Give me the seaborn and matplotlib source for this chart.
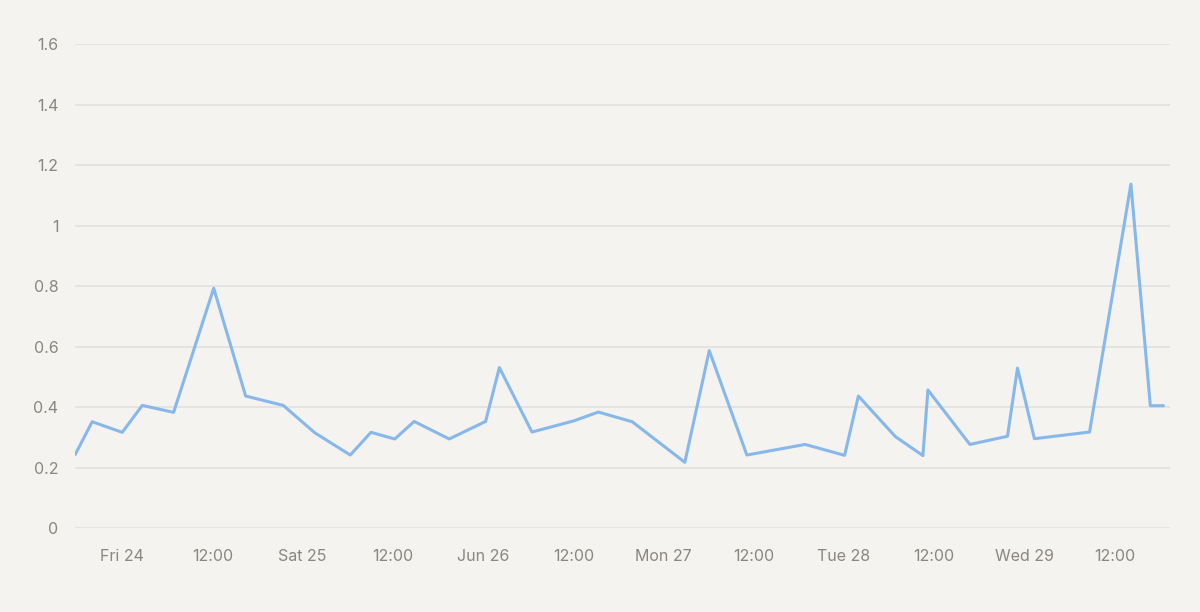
import numpy as np
import pandas as pd
import matplotlib
matplotlib.use("Agg")
import matplotlib.pyplot as plt
import seaborn as sns

# timestamps of each reading (June 2022)
times = [
    "2022-06-23 17:45", "2022-06-23 20:00", "2022-06-24 00:00", "2022-06-24 02:40",
    "2022-06-24 06:50", "2022-06-24 12:10", "2022-06-24 16:25", "2022-06-24 21:25",
    "2022-06-25 01:35", "2022-06-25 06:20", "2022-06-25 09:05", "2022-06-25 12:15",
    "2022-06-25 14:50", "2022-06-25 19:30", "2022-06-26 00:20", "2022-06-26 02:10",
    "2022-06-26 06:30", "2022-06-26 12:05", "2022-06-26 15:20", "2022-06-26 19:50",
    "2022-06-27 02:50", "2022-06-27 06:05", "2022-06-27 11:05", "2022-06-27 18:50",
    "2022-06-28 00:05", "2022-06-28 01:55", "2022-06-28 06:50", "2022-06-28 10:30",
    "2022-06-28 11:10", "2022-06-28 16:45", "2022-06-28 21:45", "2022-06-28 23:05",
    "2022-06-29 01:20", "2022-06-29 08:40", "2022-06-29 14:10", "2022-06-29 16:45",
    "2022-06-29 18:30",
]
values = [
    0.244, 0.352, 0.317, 0.406,
    0.383, 0.793, 0.437, 0.406,
    0.316, 0.242, 0.317, 0.295,
    0.353, 0.295, 0.353, 0.531,
    0.318, 0.355, 0.384, 0.352,
    0.218, 0.587, 0.242, 0.277,
    0.241, 0.437, 0.303, 0.240,
    0.457, 0.277, 0.304, 0.529,
    0.296, 0.318, 1.137, 0.405,
    0.405,
]

tick_times = [
    "2022-06-24 00:00", "2022-06-24 12:00", "2022-06-25 00:00", "2022-06-25 12:00",
    "2022-06-26 00:00", "2022-06-26 12:00", "2022-06-27 00:00", "2022-06-27 12:00",
    "2022-06-28 00:00", "2022-06-28 12:00", "2022-06-29 00:00", "2022-06-29 12:00",
]
tick_labels = [
    "Fri 24", "12:00", "Sat 25", "12:00", "Jun 26", "12:00",
    "Mon 27", "12:00", "Tue 28", "12:00", "Wed 29", "12:00",
]
y_ticks = [0, 0.2, 0.4, 0.6, 0.8, 1.0, 1.2, 1.4, 1.6]

df = pd.DataFrame({"time": pd.to_datetime(times), "value": values})

bg = "#f4f3ef"
sns.set_theme(style="white")
plt.rcParams["font.family"] = ["Inter", "DejaVu Sans"]

fig = plt.figure(figsize=(12, 6.12), dpi=100, facecolor=bg)
ax = fig.add_axes([0.0625, 0.1368, 0.9125, 0.7913])
ax.set_facecolor(bg)

sns.lineplot(data=df, x="time", y="value", ax=ax, color="#86b8ec", linewidth=2.2)

ax.set_xlim(pd.Timestamp("2022-06-23 17:43"), pd.Timestamp("2022-06-29 19:22"))
ax.set_ylim(0, 1.6)

ax.set_yticks(y_ticks)
ax.set_yticklabels([f"{v:g}" for v in y_ticks])
ax.set_xticks(pd.to_datetime(tick_times))
ax.set_xticklabels(tick_labels)

ax.grid(axis="y", color="#e2e0dc", linewidth=1.2)
ax.grid(axis="x", visible=False)
for s in ax.spines.values():
    s.set_visible(False)

ax.tick_params(axis="y", length=0, pad=12, labelsize=11.5, labelcolor="#8a8681")
ax.tick_params(axis="x", length=0, pad=15, labelsize=11.5, labelcolor="#8a8681")
ax.set_xlabel("")
ax.set_ylabel("")

fig.savefig("out.png", dpi=100, facecolor=bg)
